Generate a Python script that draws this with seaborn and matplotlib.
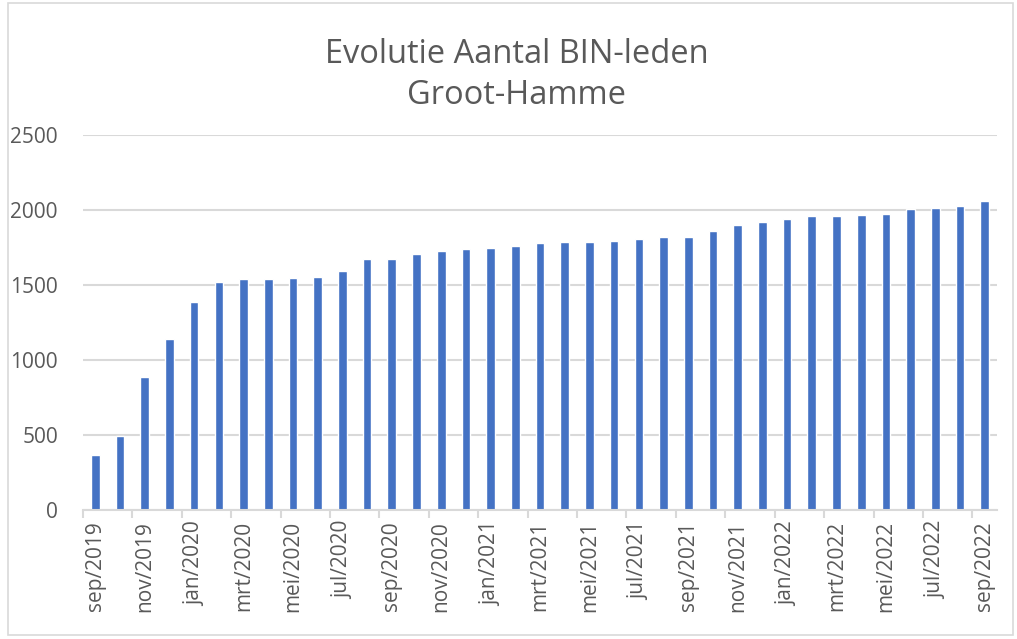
import numpy as np
import pandas as pd
import seaborn as sns
import matplotlib.pyplot as plt
from matplotlib.patches import Rectangle

sns.set_theme(style="white")
plt.rcParams['font.family'] = ['Open Sans', 'DejaVu Sans']

# maandelijkse data sep/2019 - sep/2022
maanden = ['sep', 'okt', 'nov', 'dec', 'jan', 'feb', 'mrt', 'apr', 'mei', 'jun', 'jul', 'aug']
jaren = [2019] * 4 + [2020] * 12 + [2021] * 12 + [2022] * 9
months = [f"{maanden[i % 12]}/{jaren[i]}" for i in range(37)]
leden = [368, 490, 888, 1138, 1390, 1522, 1542, 1542, 1547, 1551, 1595, 1676,
         1676, 1710, 1730, 1740, 1748, 1757, 1783, 1790, 1790, 1795, 1804, 1817,
         1820, 1863, 1898, 1918, 1937, 1961, 1961, 1966, 1971, 2004, 2012, 2026,
         2060]
tick_labels = months[::2]

bar_color = '#4472C4'
grid_color = '#D9D9D9'
text_color = '#595959'

df = pd.DataFrame({'maand': months, 'leden': leden})

fig = plt.figure(figsize=(10.17, 6.39), dpi=100)
ax = fig.add_axes([0.0816, 0.2019, 0.8988, 0.5868])
sns.barplot(data=df, x='maand', y='leden', color=bar_color, width=0.35,
            saturation=1, ax=ax)

ax.set_ylim(0, 2500)
ax.set_xlim(-0.5, len(months) - 0.5)
ax.set_yticks([0, 500, 1000, 1500, 2000, 2500])
ax.yaxis.grid(True, color=grid_color, linewidth=1.5)
ax.set_axisbelow(True)
for s in ['top', 'right', 'left']:
    ax.spines[s].set_visible(False)
ax.spines['bottom'].set_color(grid_color)
ax.spines['bottom'].set_linewidth(1.5)

ax.set_xticks(range(0, len(months), 2))
ax.set_xticklabels(tick_labels, rotation=90)
ax.set_xticks(np.arange(-0.5, len(months), 2), minor=True)
ax.tick_params(axis='x', which='major', length=0, pad=8, labelsize=15, labelcolor=text_color)
ax.tick_params(axis='x', which='minor', length=6, width=1.5, color=grid_color, bottom=True)
ax.tick_params(axis='y', length=0, pad=18, labelsize=15, labelcolor=text_color)
ax.set_xlabel('')
ax.set_ylabel('')

fig.text(0.508, 0.883, 'Evolutie Aantal BIN-leden\nGroot-Hamme', ha='center', va='center',
         fontsize=23.5, color=text_color, linespacing=1.3)

# rand van de grafiek
fig.patches.append(Rectangle((0.008, 0.006), 0.988, 0.99, transform=fig.transFigure,
                             fill=False, edgecolor=grid_color, linewidth=1.2))

plt.savefig('out.png', dpi=100)
